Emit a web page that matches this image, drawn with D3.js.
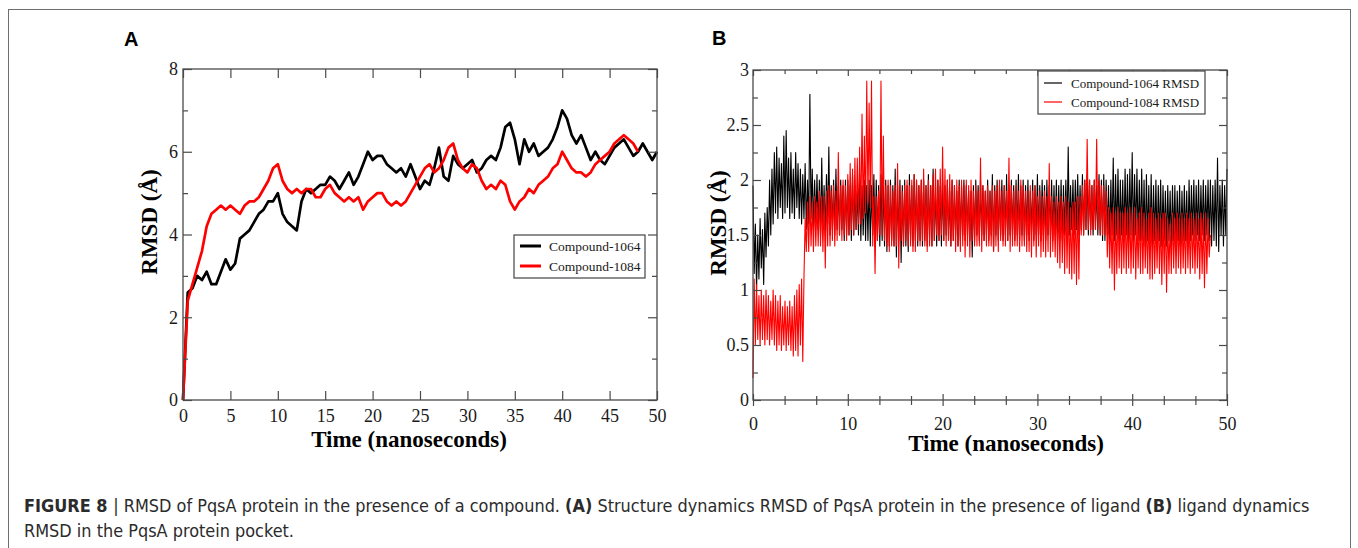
<!DOCTYPE html>
<html>
<head>
<meta charset="utf-8">
<script src="https://cdn.jsdelivr.net/npm/d3@7"></script>
<style>
  body { margin: 0; background: #fff; }
  svg { display: block; }
</style>
</head>
<body>
<div id="figure"></div>
<script>
// ---- data ----
// panel A: protein RMSD, sampled every 0.5 ns
const stepA = 0.5;
const compound1064A = [
  0, 2.6, 2.7, 3.0, 2.9, 3.1, 2.8, 2.8, 3.1, 3.4,
  3.15, 3.3, 3.9, 4.0, 4.1, 4.3, 4.5, 4.6, 4.8, 4.8,
  5.0, 4.5, 4.3, 4.2, 4.1, 4.8, 5.1, 5.0, 5.1, 5.2,
  5.2, 5.4, 5.3, 5.1, 5.3, 5.5, 5.2, 5.4, 5.7, 6.0,
  5.8, 5.9, 5.9, 5.7, 5.6, 5.5, 5.6, 5.4, 5.7, 5.4,
  5.1, 5.3, 5.2, 5.6, 6.1, 5.4, 5.3, 5.9, 5.7, 5.6,
  5.7, 5.8, 5.5, 5.6, 5.8, 5.9, 5.8, 6.1, 6.6, 6.7,
  6.3, 5.7, 6.3, 6.0, 6.2, 5.9, 6.0, 6.1, 6.3, 6.6,
  7.0, 6.8, 6.4, 6.2, 6.4, 6.1, 5.8, 6.0, 5.8, 5.7,
  5.9, 6.1, 6.2, 6.3, 6.1, 5.9, 6.0, 6.2, 6.0, 5.8,
  6.0
];
const compound1084A = [
  0, 2.4, 2.8, 3.2, 3.6, 4.2, 4.5, 4.6, 4.7, 4.6,
  4.7, 4.6, 4.5, 4.7, 4.8, 4.8, 4.9, 5.1, 5.3, 5.6,
  5.7, 5.3, 5.1, 5.0, 5.1, 5.0, 5.1, 5.1, 4.9, 4.9,
  5.1, 5.2, 5.0, 4.9, 4.8, 4.9, 4.8, 4.9, 4.6, 4.8,
  4.9, 5.0, 5.0, 4.8, 4.7, 4.8, 4.7, 4.8, 5.0, 5.2,
  5.4, 5.6, 5.7, 5.5, 5.6, 5.8, 6.1, 6.2, 5.8, 5.6,
  5.5, 5.7, 5.6, 5.3, 5.1, 5.2, 5.1, 5.3, 5.2, 4.8,
  4.6, 4.8, 4.9, 5.1, 5.0, 5.2, 5.3, 5.4, 5.6, 5.7,
  6.0, 5.8, 5.6, 5.5, 5.5, 5.4, 5.5, 5.7, 5.8, 5.9,
  6.0, 6.2, 6.3, 6.4, 6.3, 6.2, 6.0
];

// panel B: ligand RMSD, sampled every 0.125 ns (one row = 1 ns)
const stepB = 0.125;
const compound1064B = [
  1.95, 1.15, 1.6, 1.0, 1.5, 1.1, 1.65, 1.2,
  1.55, 1.05, 1.7, 1.3, 1.75, 1.4, 2.0, 1.5,
  2.1, 1.6, 2.25, 1.7, 2.3, 1.65, 2.2, 1.75,
  2.15, 1.65, 2.4, 1.7, 2.45, 1.75, 2.2, 1.65,
  2.25, 1.7, 2.1, 1.65, 2.25, 1.75, 2.15, 1.65,
  2.1, 1.6, 2.05, 1.65, 2.15, 1.55, 2.0, 1.6,
  2.78, 1.65, 2.1, 1.55, 2.0, 1.6, 2.05, 1.55,
  2.0, 1.5, 2.2, 1.55, 1.95, 1.5, 2.05, 1.6,
  2.3, 1.5, 1.95, 1.55, 2.0, 1.5, 2.1, 1.55,
  1.95, 1.5, 2.0, 1.55, 1.95, 1.45, 2.0, 1.5,
  2.0, 1.5, 1.95, 1.45, 2.05, 1.5, 1.95, 1.55,
  1.9, 1.5, 2.05, 1.45, 1.95, 1.5, 2.0, 1.45,
  1.95, 1.45, 2.0, 1.4, 1.95, 1.5, 2.05, 1.4,
  2.0, 1.45, 1.95, 1.4, 2.05, 1.45, 1.95, 1.4,
  2.0, 1.35, 1.95, 1.4, 2.0, 1.45, 1.95, 1.4,
  2.1, 1.3, 1.95, 1.45, 2.0, 1.25, 1.95, 1.4,
  2.0, 1.4, 1.95, 1.35, 2.05, 1.45, 1.95, 1.4,
  2.05, 1.45, 2.0, 1.4, 1.95, 1.45, 2.0, 1.4,
  2.0, 1.45, 1.95, 1.4, 2.05, 1.45, 1.95, 1.4,
  2.1, 1.45, 1.95, 1.4, 2.0, 1.45, 1.95, 1.4,
  2.0, 1.45, 1.95, 1.5, 2.0, 1.45, 1.9, 1.4,
  2.0, 1.45, 1.95, 1.5, 1.9, 1.4, 2.0, 1.45,
  1.95, 1.5, 2.0, 1.45, 1.95, 1.5, 1.9, 1.45,
  1.9, 1.3, 1.95, 1.45, 2.0, 1.5, 1.95, 1.45,
  2.0, 1.5, 1.95, 1.45, 1.9, 1.5, 2.0, 1.45,
  1.9, 1.5, 2.05, 1.35, 1.95, 1.5, 2.0, 1.45,
  1.95, 1.5, 2.0, 1.45, 1.95, 1.5, 2.05, 1.45,
  1.95, 1.5, 2.0, 1.5, 1.95, 1.45, 2.0, 1.5,
  2.05, 1.45, 1.95, 1.5, 2.0, 1.45, 1.95, 1.5,
  2.0, 1.45, 1.9, 1.5, 2.0, 1.45, 1.95, 1.5,
  2.05, 1.5, 1.95, 1.45, 2.0, 1.5, 1.95, 1.45,
  2.0, 1.5, 1.95, 1.5, 2.0, 1.45, 1.95, 1.5,
  2.0, 1.45, 1.95, 1.5, 2.0, 1.45, 1.95, 1.5,
  2.0, 1.5, 2.3, 1.5, 1.95, 1.55, 2.0, 1.5,
  2.0, 1.55, 2.05, 1.5, 1.95, 1.55, 2.05, 1.5,
  2.0, 1.55, 2.05, 1.5, 2.0, 1.55, 1.95, 1.5,
  2.0, 1.55, 1.95, 1.5, 2.05, 1.5, 2.0, 1.45,
  2.05, 1.45, 2.0, 1.5, 1.95, 1.45, 2.0, 1.5,
  2.2, 1.45, 2.05, 1.5, 2.1, 1.45, 2.0, 1.5,
  2.0, 1.45, 2.1, 1.5, 2.05, 1.45, 2.1, 1.5,
  2.25, 1.45, 2.05, 1.5, 2.1, 1.45, 2.0, 1.45,
  2.1, 1.45, 2.0, 1.4, 2.05, 1.45, 1.95, 1.4,
  2.05, 1.4, 1.95, 1.45, 2.0, 1.4, 1.95, 1.45,
  2.0, 1.4, 1.95, 1.45, 1.9, 1.4, 1.95, 1.45,
  1.9, 1.4, 1.95, 1.45, 1.95, 1.4, 1.9, 1.45,
  1.95, 1.4, 1.9, 1.45, 1.95, 1.45, 1.9, 1.4,
  2.0, 1.45, 1.95, 1.5, 2.0, 1.45, 1.95, 1.5,
  2.0, 1.45, 1.95, 1.5, 2.0, 1.45, 1.95, 1.5,
  2.0, 1.45, 2.0, 1.4, 1.95, 1.45, 2.0, 1.4,
  2.2, 1.35, 1.95, 1.5, 2.0, 1.4, 1.95, 1.5,
  2.1
];
const compound1084B = [
  0.2, 1.1, 0.5, 1.05, 0.55, 0.95, 0.5, 1.0,
  0.55, 0.95, 0.5, 1.0, 0.55, 0.95, 0.5, 0.9,
  0.55, 1.0, 0.5, 0.95, 0.45, 0.9, 0.5, 0.95,
  0.45, 0.85, 0.5, 0.9, 0.45, 0.85, 0.5, 0.9,
  0.45, 0.85, 0.4, 0.95, 0.45, 1.0, 0.4, 1.05,
  0.5, 1.1, 0.35, 1.1, 1.65, 1.35, 1.8, 1.35,
  1.85, 1.4, 1.8, 1.35, 1.85, 1.4, 1.8, 1.4,
  1.9, 1.4, 1.85, 1.35, 1.85, 1.2, 1.9, 1.4,
  1.95, 1.4, 1.9, 1.45, 1.95, 1.4, 1.9, 1.45,
  2.25, 1.5, 1.95, 1.45, 2.0, 1.5, 1.95, 1.45,
  2.05, 1.5, 2.15, 1.55, 2.1, 1.5, 2.2, 1.55,
  2.2, 1.6, 2.3, 1.6, 2.6, 1.65, 2.4, 1.7,
  2.9, 1.8, 2.7, 1.75, 2.9, 1.4, 1.85, 1.15,
  1.85, 1.45, 1.9, 1.5, 2.9, 1.5, 2.4, 1.45,
  1.95, 1.4, 2.0, 1.35, 1.95, 1.4, 1.9, 1.4,
  1.95, 1.4, 2.15, 1.2, 1.95, 1.45, 1.9, 1.4,
  1.95, 1.45, 2.0, 1.4, 1.95, 1.4, 2.0, 1.35,
  2.05, 1.35, 2.0, 1.45, 1.95, 1.4, 2.0, 1.45,
  2.1, 1.4, 1.95, 1.35, 2.0, 1.4, 1.95, 1.4,
  2.05, 1.45, 2.1, 1.5, 2.0, 1.45, 2.1, 1.5,
  2.3, 1.45, 2.1, 1.4, 2.0, 1.45, 2.05, 1.4,
  2.0, 1.45, 1.95, 1.35, 2.0, 1.4, 1.95, 1.35,
  2.0, 1.4, 1.95, 1.3, 2.0, 1.4, 1.95, 1.3,
  2.0, 1.45, 1.9, 1.4, 1.95, 1.4, 1.9, 1.4,
  2.2, 1.35, 1.95, 1.45, 1.9, 1.4, 1.95, 1.4,
  1.9, 1.4, 1.95, 1.35, 1.9, 1.4, 1.95, 1.35,
  2.0, 1.45, 1.9, 1.4, 1.95, 1.4, 1.9, 1.45,
  2.2, 1.35, 1.95, 1.4, 1.9, 1.4, 1.95, 1.4,
  1.9, 1.35, 2.0, 1.4, 1.95, 1.4, 1.9, 1.35,
  1.9, 1.35, 1.95, 1.3, 1.9, 1.4, 1.95, 1.3,
  1.85, 1.4, 1.9, 1.3, 1.85, 1.35, 1.9, 1.3,
  1.85, 1.35, 2.15, 1.3, 1.85, 1.35, 1.8, 1.3,
  1.85, 1.25, 1.8, 1.2, 1.85, 1.25, 1.8, 1.15,
  1.85, 1.2, 1.8, 1.15, 1.75, 1.1, 1.8, 1.15,
  1.8, 1.05, 1.85, 1.1, 1.85, 1.5, 1.95, 1.5,
  2.0, 1.55, 2.37, 1.55, 2.0, 1.5, 1.95, 1.55,
  2.0, 1.55, 2.37, 1.55, 2.0, 1.5, 1.95, 1.5,
  1.95, 1.5, 1.9, 1.3, 1.75, 1.2, 1.7, 1.15,
  1.75, 1.0, 1.7, 1.15, 1.75, 1.2, 1.7, 1.15,
  1.7, 1.2, 1.75, 1.15, 1.7, 1.2, 1.75, 1.15,
  1.7, 1.2, 1.75, 1.1, 1.65, 1.2, 1.7, 1.15,
  1.75, 1.15, 1.7, 1.2, 1.65, 1.15, 1.7, 1.1,
  1.75, 1.1, 1.7, 1.15, 1.65, 1.2, 1.7, 1.15,
  1.65, 1.05, 1.7, 1.15, 1.7, 0.98, 1.65, 1.15,
  1.6, 1.15, 1.7, 1.2, 1.65, 1.15, 1.7, 1.2,
  1.65, 1.15, 1.7, 1.2, 1.65, 1.15, 1.7, 1.2,
  1.65, 1.15, 1.7, 1.2, 1.65, 1.15, 1.7, 1.2,
  1.65, 1.1, 1.7, 1.15, 1.65, 1.02, 1.7, 1.15,
  1.65, 1.3, 1.5
];

// tick values
const xTicksA = [0, 5, 10, 15, 20, 25, 30, 35, 40, 45, 50];
const yTicksA = [0, 2, 4, 6, 8];
const yMinorA = [1, 3, 5, 7];
const xTicksB = [0, 10, 20, 30, 40, 50];
const yTicksB = [0, 0.5, 1, 1.5, 2, 2.5, 3];
const yMinorB = [0.25, 0.75, 1.25, 1.75, 2.25, 2.75];

const legendA = ["Compound-1064", "Compound-1084"];
const legendB = ["Compound-1064 RMSD", "Compound-1084 RMSD"];

const SERIF = "'Liberation Serif', 'Times New Roman', Times, serif";
const SANS = "'Liberation Sans', Arial, Helvetica, sans-serif";
const AXIS_COLOR = "#4a4a4a";

class RMSD_Panel {
  constructor(svg, opts) {
    this.svg = svg;
    Object.assign(this, opts);
    this.draw();
  }

  draw() {
    this.plot = this.svg.append("g");
    this.createScales();
    this.drawLines();
    this.drawAxis();
    this.drawLegend();
    this.drawLabels();
  }

  createScales() {
    this.xScale = d3.scaleLinear().domain([0, 50]).range([this.box.left, this.box.right]);
    this.yScale = d3.scaleLinear().domain(this.yDomain).range([this.box.bottom, this.box.top]);
  }

  drawLines() {
    const visual = this.plot.append("g");
    this.series.forEach((s) => {
      const line = d3
        .line()
        .x((d, i) => this.xScale(i * s.step))
        .y((d) => this.yScale(d));
      visual
        .append("path")
        .datum(s.values)
        .attr("d", line)
        .attr("fill", "none")
        .attr("stroke", s.color)
        .attr("stroke-width", this.lineWidth)
        .attr("stroke-linejoin", "round");
    });
  }

  // tick marks only, no labels; negative size points inward
  tickMarks(axis, pos, size) {
    const g = this.plot
      .append("g")
      .attr("transform", pos)
      .call(axis.tickSize(size).tickFormat(""));
    g.select(".domain").remove();
    g.selectAll(".tick line").attr("stroke", AXIS_COLOR).attr("stroke-width", 1.2);
  }

  tickLabels(axis, pos, pad) {
    const g = this.plot
      .append("g")
      .attr("transform", pos)
      .call(axis.tickSize(0).tickPadding(pad).tickFormat(d3.format("")));
    g.select(".domain").remove();
    g.selectAll(".tick text")
      .attr("font-family", SERIF)
      .attr("font-size", 18)
      .attr("fill", "#1a1a1a");
  }

  drawAxis() {
    const b = this.box;
    const x = this.xScale;
    const y = this.yScale;
    const bottom = `translate(0,${b.bottom})`;
    const top = `translate(0,${b.top})`;
    const left = `translate(${b.left},0)`;
    const right = `translate(${b.right},0)`;
    const t = this.ticks;

    // x ticks: bottom (may cross the axis) and top
    this.tickMarks(d3.axisBottom(x).tickValues(this.xTicks), bottom, -t.xIn);
    if (t.xOut) this.tickMarks(d3.axisBottom(x).tickValues(this.xTicks), bottom, t.xOut);
    this.tickMarks(d3.axisTop(x).tickValues(this.xTicks), top, -t.xIn);
    if (this.xMinor) {
      this.tickMarks(d3.axisBottom(x).tickValues(this.xMinor), bottom, -t.xMinorIn);
      if (t.xMinorOut) this.tickMarks(d3.axisBottom(x).tickValues(this.xMinor), bottom, t.xMinorOut);
      this.tickMarks(d3.axisTop(x).tickValues(this.xMinor), top, -t.xMinorIn);
    }

    // y ticks on both sides
    this.tickMarks(d3.axisLeft(y).tickValues(this.yTicks), left, -t.yIn);
    this.tickMarks(d3.axisRight(y).tickValues(this.yTicks), right, -t.yIn);
    this.tickMarks(d3.axisLeft(y).tickValues(this.yMinor), left, -t.yMinorIn);
    this.tickMarks(d3.axisRight(y).tickValues(this.yMinor), right, -t.yMinorIn);

    this.tickLabels(d3.axisBottom(x).tickValues(this.xTicks), bottom, t.xPad);
    this.tickLabels(d3.axisLeft(y).tickValues(this.yTicks), left, t.yPad);

    // frame
    this.plot
      .append("rect")
      .attr("x", b.left)
      .attr("y", b.top)
      .attr("width", b.right - b.left)
      .attr("height", b.bottom - b.top)
      .attr("fill", "none")
      .attr("stroke", AXIS_COLOR)
      .attr("stroke-width", 1.3);
  }

  drawLegend() {
    const L = this.legend;
    const g = this.plot.append("g");
    g.append("rect")
      .attr("x", L.x)
      .attr("y", L.y)
      .attr("width", L.w)
      .attr("height", L.h)
      .attr("fill", "#fff")
      .attr("stroke", "#444")
      .attr("stroke-width", 1.2);
    this.series.forEach((s, i) => {
      const cy = L.rowY[i];
      g.append("line")
        .attr("x1", L.lineX[0])
        .attr("x2", L.lineX[1])
        .attr("y1", cy)
        .attr("y2", cy)
        .attr("stroke", s.color)
        .attr("stroke-width", L.lineWidth);
      g.append("text")
        .attr("x", L.textX)
        .attr("y", cy)
        .attr("dy", "0.35em")
        .attr("font-family", SERIF)
        .attr("font-size", L.fontSize)
        .attr("fill", "#1a1a1a")
        .text(this.legendNames[i]);
    });
  }

  drawLabels() {
    const T = this.titles;
    this.svg
      .append("text")
      .attr("x", T.letter[0])
      .attr("y", T.letter[1])
      .attr("font-family", SANS)
      .attr("font-weight", "bold")
      .attr("font-size", 20)
      .text(this.letter);

    this.svg
      .append("text")
      .attr("x", T.x[0])
      .attr("y", T.x[1])
      .attr("text-anchor", "middle")
      .attr("font-family", SERIF)
      .attr("font-weight", "bold")
      .attr("font-size", 23)
      .text("Time (nanoseconds)");

    this.svg
      .append("text")
      .attr("transform", `translate(${T.y[0]},${T.y[1]}) rotate(-90)`)
      .attr("text-anchor", "middle")
      .attr("font-family", SERIF)
      .attr("font-weight", "bold")
      .attr("font-size", 23)
      .text("RMSD (Å)");
  }
}

const W = 1358;
const H = 548;
const svg = d3.select("#figure").append("svg").attr("width", W).attr("height", H);

// outer frame of the figure
svg.append("rect")
  .attr("x", 8.5)
  .attr("y", 9.5)
  .attr("width", 1342)
  .attr("height", 580)
  .attr("fill", "none")
  .attr("stroke", "#6e6e6e")
  .attr("stroke-width", 1);

new RMSD_Panel(svg, {
  letter: "A",
  box: { left: 183, right: 657, top: 69, bottom: 400 },
  yDomain: [0, 8],
  xTicks: xTicksA,
  yTicks: yTicksA,
  yMinor: yMinorA,
  ticks: { xIn: 9, yIn: 9, yMinorIn: 5, xPad: 9, yPad: 5 },
  lineWidth: 2.7,
  series: [
    { values: compound1064A, step: stepA, color: "#000" },
    { values: compound1084A, step: stepA, color: "#ff0000" },
  ],
  legendNames: legendA,
  legend: {
    x: 514, y: 235, w: 131, h: 43,
    rowY: [246, 266], lineX: [520, 541], textX: 549,
    lineWidth: 3, fontSize: 13.5,
  },
  titles: { letter: [124, 46], x: [409, 447], y: [157, 222] },
});

new RMSD_Panel(svg, {
  letter: "B",
  box: { left: 753, right: 1227, top: 70, bottom: 400 },
  yDomain: [0, 3],
  xTicks: xTicksB,
  xMinor: d3.range(0, 50, 10 / 3).filter((v, i) => i % 3 !== 0),
  yTicks: yTicksB,
  yMinor: yMinorB,
  ticks: {
    xIn: 6, xOut: 6, xMinorIn: 4, xMinorOut: 5,
    yIn: 8, yMinorIn: 5, xPad: 17, yPad: 4,
  },
  lineWidth: 1.1,
  series: [
    { values: compound1064B, step: stepB, color: "#000" },
    { values: compound1084B, step: stepB, color: "#ff0000" },
  ],
  legendNames: legendB,
  legend: {
    x: 1038, y: 71, w: 167, h: 43,
    rowY: [83, 102], lineX: [1044, 1062], textX: 1071,
    lineWidth: 1.2, fontSize: 13,
  },
  titles: { letter: [712, 45], x: [1006, 451], y: [726, 223] },
});

// caption
const captionFont = "'Liberation Sans Narrow', 'DejaVu Sans Condensed', 'Arial Narrow', sans-serif";
const caption = svg.append("g").attr("fill", "#2b2b2b").attr("font-family", captionFont);
const line1 = caption.append("text").attr("x", 24).attr("y", 512).attr("font-size", 16);
line1.append("tspan").attr("font-weight", "bold").text("FIGURE 8 ");
line1.append("tspan").text("| RMSD of PqsA protein in the presence of a compound. ");
line1.append("tspan").attr("font-weight", "bold").text("(A)");
line1.append("tspan").text(" Structure dynamics RMSD of PqsA protein in the presence of ligand ");
line1.append("tspan").attr("font-weight", "bold").text("(B)");
line1.append("tspan").text(" ligand dynamics");
const line2 = caption.append("text").attr("x", 24).attr("y", 537).attr("font-size", 16)
  .text("RMSD in the PqsA protein pocket.");

// fit the first caption line to the width it has in the figure
const len = line1.node().getComputedTextLength();
const fs = 16 * 1286 / len;
line1.attr("font-size", fs);
line2.attr("font-size", fs);
</script>
</body>
</html>
